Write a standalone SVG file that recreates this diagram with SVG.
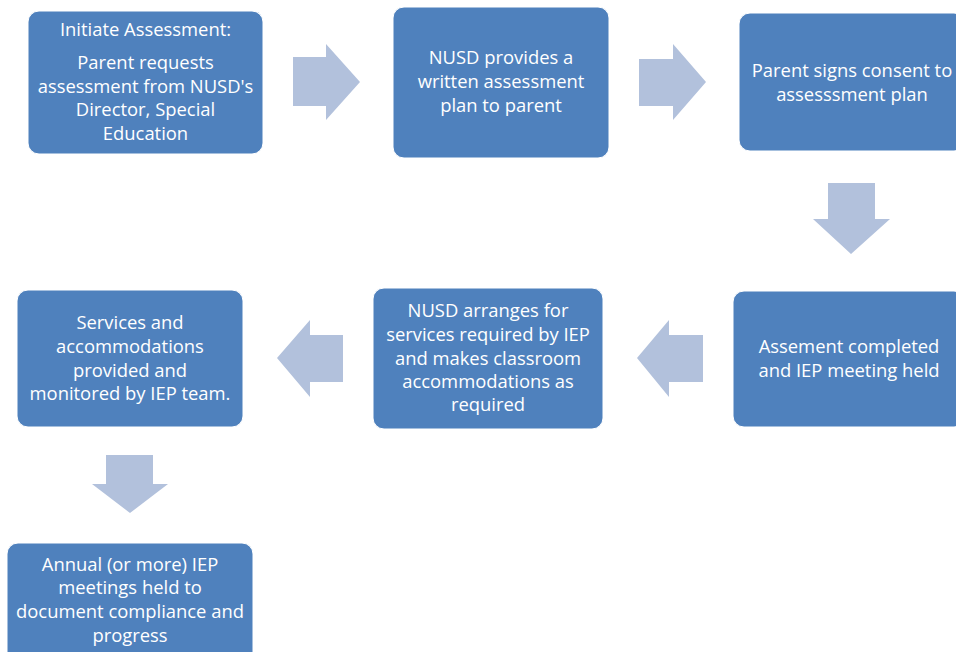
<svg xmlns="http://www.w3.org/2000/svg" width="956" height="652" viewBox="0 0 956 652">
<style>
.box{fill:#4F81BD;stroke:#FFFFFF;stroke-width:1}
.arr{fill:#B2C1DC}
text{font-family:"Open Sans","Liberation Sans",Arial,sans-serif;font-size:18.4px;fill:#FFFFFF;text-anchor:middle}
</style>
<rect width="956" height="652" fill="#FFFFFF"/>
<g id="connectors">
<polygon class="arr" points="293,57 326,57 326,44 360,82 326,120 326,106 293,106"/>
<polygon class="arr" points="639,59 673,59 673,44 706,82 673,120 673,106 639,106"/>
<polygon class="arr" points="828,183 875,183 875,219 890,219 851,254 813,219 828,219"/>
<polygon class="arr" points="703,335 669,335 669,320 637,358 669,397 669,382 703,382"/>
<polygon class="arr" points="343,335 310,335 310,320 277,358 310,397 310,382 343,382"/>
<polygon class="arr" points="106,455 153,455 153,484 168,484 130,513 92,484 106,484"/>
</g>
<g id="node1">
<rect class="box" x="28" y="11" width="235" height="143" rx="11"/>
<text x="145.5" y="36">Initiate Assessment:</text>
<text x="145.5" y="69">Parent requests</text>
<text x="145.5" y="92.5">assessment from NUSD's</text>
<text x="145.5" y="116">Director, Special</text>
<text x="145.5" y="139.5">Education</text>
</g>
<g id="node2">
<rect class="box" x="393" y="7" width="216" height="151" rx="11"/>
<text x="501" y="64">NUSD provides a</text>
<text x="501" y="88">written assessment</text>
<text x="501" y="112">plan to parent</text>
</g>
<g id="node3">
<rect class="box" x="739" y="13" width="226" height="138" rx="11"/>
<text x="852" y="77">Parent signs consent to</text>
<text x="852" y="100.5">assesssment plan</text>
</g>
<g id="node4">
<rect class="box" x="733" y="291" width="232" height="136" rx="11"/>
<text x="849" y="353">Assement completed</text>
<text x="849" y="377">and IEP meeting held</text>
</g>
<g id="node5">
<rect class="box" x="373" y="288" width="230" height="141" rx="11"/>
<text x="488" y="317">NUSD arranges for</text>
<text x="488" y="341">services required by IEP</text>
<text x="488" y="365">and makes classroom</text>
<text x="488" y="388">accommodations as</text>
<text x="488" y="411">required</text>
</g>
<g id="node6">
<rect class="box" x="17" y="290" width="226" height="137" rx="11"/>
<text x="130" y="329">Services and</text>
<text x="130" y="353">accommodations</text>
<text x="130" y="377">provided and</text>
<text x="130" y="400">monitored by IEP team.</text>
</g>
<g id="node7">
<rect class="box" x="7" y="543" width="246" height="125" rx="11"/>
<text x="130" y="571">Annual (or more) IEP</text>
<text x="130" y="594">meetings held to</text>
<text x="130" y="618">document compliance and</text>
<text x="130" y="642">progress</text>
</g>
</svg>
